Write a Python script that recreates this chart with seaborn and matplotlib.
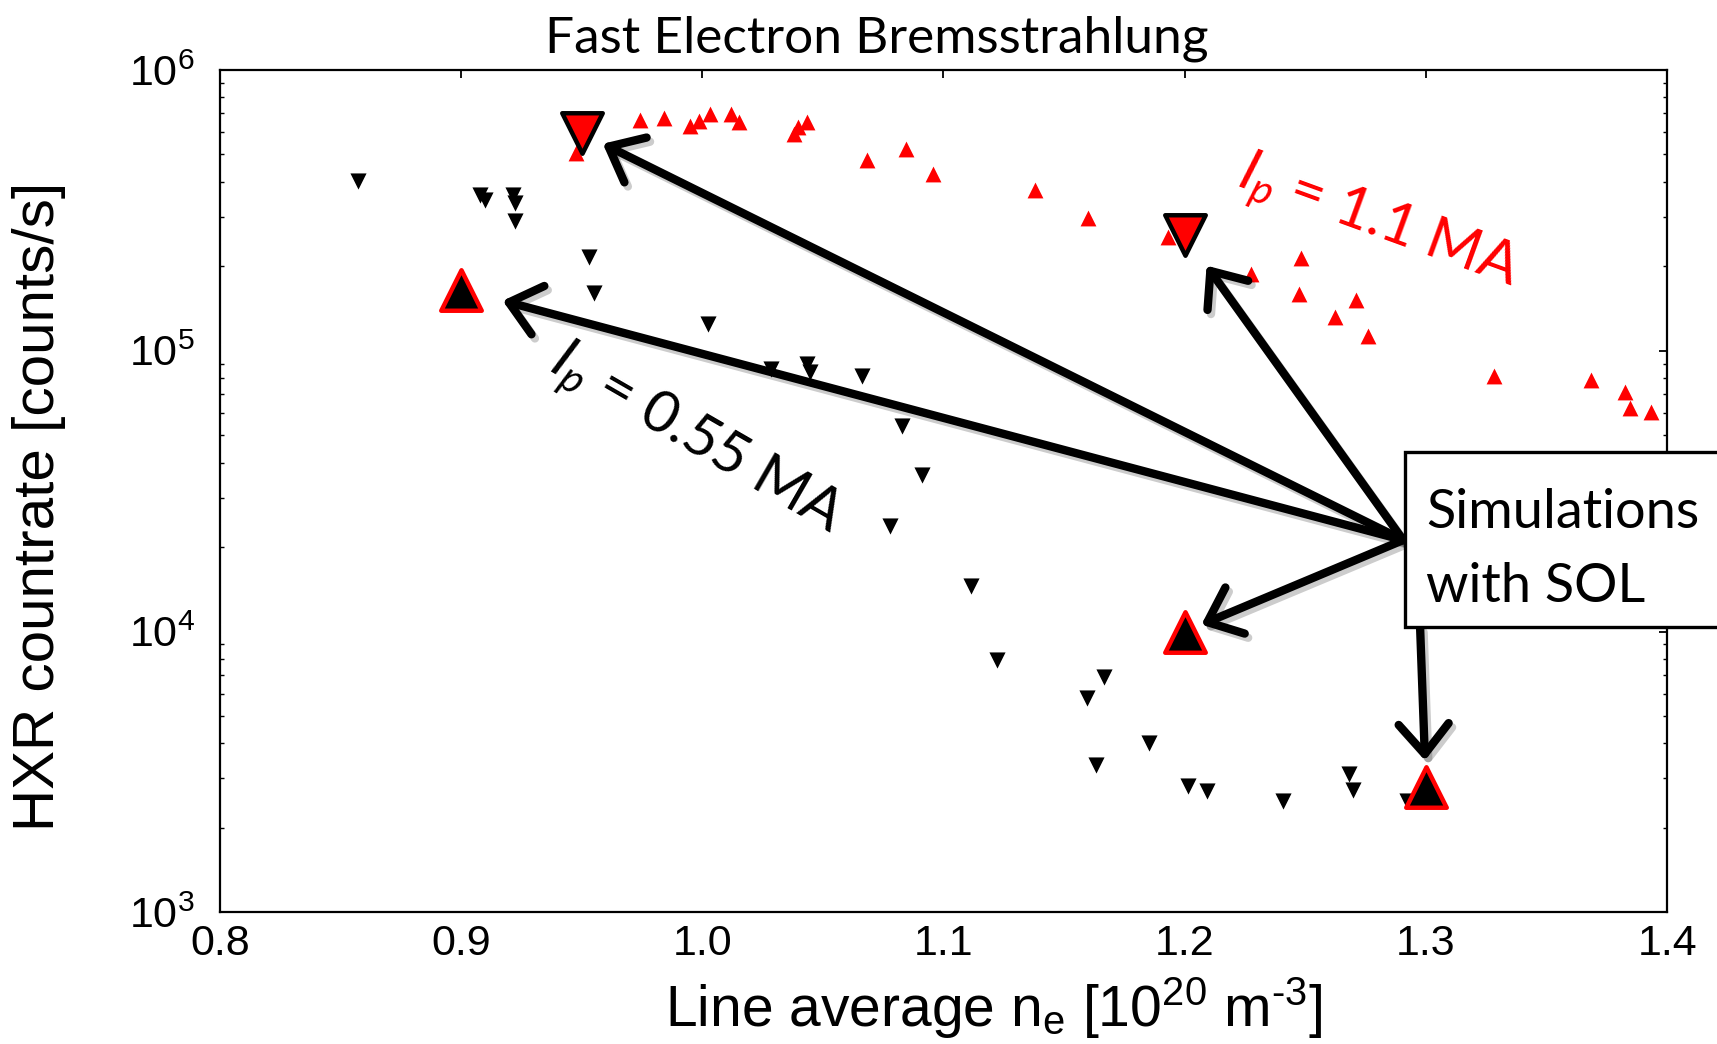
import matplotlib
matplotlib.use("Agg")
import matplotlib.pyplot as plt
import seaborn as sns
import numpy as np
from matplotlib import patheffects as pe
from matplotlib.patches import Rectangle
from matplotlib.ticker import FixedLocator, LogLocator, NullFormatter, FormatStrFormatter

# ---------------- data ----------------
# Ip = 0.55 MA measurements (black, down triangles)
ne_055 = [0.8575, 0.908, 0.910, 0.9216, 0.9222, 0.9222, 0.953, 0.9553, 1.0025,
          1.0283, 1.0435, 1.0445, 1.0661, 1.083, 1.0909, 1.0777, 1.1113, 1.1221,
          1.1666, 1.1595, 1.185, 1.1633, 1.2012, 1.2093, 1.2408, 1.268, 1.2696, 1.292]
hxr_055 = [4.03e5, 3.59e5, 3.44e5, 3.60e5, 3.37e5, 2.89e5, 2.16e5, 1.61e5, 1.25e5,
           8.6e4, 9.0e4, 8.4e4, 8.1e4, 5.4e4, 3.6e4, 2.37e4, 1.45e4, 7.9e3,
           6.9e3, 5.8e3, 4.0e3, 3.35e3, 2.81e3, 2.71e3, 2.49e3, 3.11e3, 2.73e3, 2.49e3]

# Ip = 1.1 MA measurements (red, up triangles)
ne_11 = [0.9478, 0.9744, 0.984, 0.9951, 0.9986, 1.0034, 1.0118, 1.0151, 1.038,
         1.0398, 1.0436, 1.0682, 1.0846, 1.0957, 1.138, 1.1598, 1.1932, 1.2276,
         1.2481, 1.2474, 1.2712, 1.2622, 1.2758, 1.3282, 1.3683, 1.3826, 1.3846, 1.3932]
hxr_11 = [5.05e5, 6.64e5, 6.74e5, 6.32e5, 6.58e5, 6.98e5, 6.95e5, 6.53e5, 5.91e5,
          6.25e5, 6.55e5, 4.76e5, 5.25e5, 4.27e5, 3.74e5, 2.98e5, 2.55e5, 1.87e5,
          2.14e5, 1.59e5, 1.52e5, 1.32e5, 1.13e5, 8.15e4, 7.87e4, 7.11e4, 6.24e4, 6.06e4]

# Simulations with SOL
sim_up_ne = [0.90, 1.20, 1.30]          # black fill, red edge (0.55 MA)
sim_up_hxr = [1.65e5, 1.0e4, 2.8e3]
sim_dn_ne = [0.95, 1.20]                # red fill, black edge (1.1 MA)
sim_dn_hxr = [5.95e5, 2.58e5]

x_ticks = [0.8, 0.9, 1.0, 1.1, 1.2, 1.3, 1.4]
y_lim = [1e3, 1e6]

title = "Fast Electron Bremsstrahlung"
xlabel = "Line average n$_\\mathregular{e}$ [10$^\\mathregular{20}$ m$^\\mathregular{\u20103}$]"
ylabel = "HXR countrate [counts/s]"
label_hi = r"$I_p$ = 1.1 MA"
label_lo = r"$I_p$ = 0.55 MA"
box_lines = ["Simulations", "with SOL"]

# ---------------- style ----------------
sns.set_theme(style="white")
plt.rcParams["font.family"] = ["Liberation Sans", "DejaVu Sans"]
plt.rcParams["mathtext.fontset"] = "custom"
plt.rcParams["mathtext.rm"] = "Lato"
plt.rcParams["mathtext.it"] = "Lato:italic"
plt.rcParams["axes.unicode_minus"] = False

fig = plt.figure(figsize=(17.17, 10.44), dpi=100)
ax = fig.add_axes([0.128, 0.126, 0.843, 0.807])

sns.scatterplot(x=ne_055, y=hxr_055, marker="v", color="black", s=135,
                linewidth=0, ax=ax, zorder=3, legend=False)
sns.scatterplot(x=ne_11, y=hxr_11, marker="^", color="#ff0000", s=130,
                linewidth=0, ax=ax, zorder=3, legend=False)
sns.scatterplot(x=sim_up_ne, y=sim_up_hxr, marker="^", color="black",
                edgecolor="#ff0000", s=850, linewidth=3.2, ax=ax, zorder=5, legend=False)
sns.scatterplot(x=sim_dn_ne, y=sim_dn_hxr, marker="v", color="#ff0000",
                edgecolor="black", s=850, linewidth=3.2, ax=ax, zorder=5, legend=False)

ax.set_yscale("log")
ax.set_xlim(x_ticks[0], x_ticks[-1])
ax.set_ylim(*y_lim)
ax.xaxis.set_major_locator(FixedLocator(x_ticks))
ax.xaxis.set_major_formatter(FormatStrFormatter("%.1f"))
ax.yaxis.set_major_locator(LogLocator(base=10, numticks=10))
ax.yaxis.set_minor_locator(LogLocator(base=10, subs=np.arange(2, 10), numticks=20))
ax.yaxis.set_minor_formatter(NullFormatter())

for sp in ax.spines.values():
    sp.set_linewidth(1.6)
    sp.set_color("black")

ax.tick_params(axis="both", which="major", direction="in", top=True, right=True,
               length=6, width=1.3, colors="black", labelsize=31)
ax.tick_params(axis="y", which="minor", direction="in", left=True, right=True,
               length=3, width=1.0, colors="black")
ax.tick_params(axis="x", which="major", pad=8)
ax.tick_params(axis="y", which="major", pad=18)

ax.set_xlabel(xlabel, fontsize=41, color="black")
ax.xaxis.set_label_coords(0.535, -0.074)
ax.set_ylabel(ylabel, fontsize=42, color="black")
ax.yaxis.set_label_coords(-0.106, 0.482)

ax.text(0.454, 1.0208, title, transform=ax.transAxes, ha="center", va="baseline",
        fontsize=37, family="Lato", color="black")

# rotated group labels
ax.text(1.2802, 2.85e5, label_hi, color="#ff0000", fontsize=42, family="Lato",
        rotation=-20, rotation_mode="anchor", ha="center", va="center", zorder=6)
ax.text(0.9972, 4.81e4, label_lo, color="black", fontsize=42, family="Lato",
        rotation=-30, rotation_mode="anchor", ha="center", va="center", zorder=6)

# annotation box
box_x0, box_y0, box_y1 = 0.819, 0.3388, 0.5465
ax.add_patch(Rectangle((box_x0, box_y0), 0.3, box_y1 - box_y0, transform=ax.transAxes,
                       facecolor="white", edgecolor="black", linewidth=2.4,
                       clip_on=False, zorder=10))
ax.text(0.8335, 0.4563, box_lines[0], transform=ax.transAxes, fontsize=39,
        family="Lato", ha="left", va="baseline", zorder=11, color="black")
ax.text(0.8335, 0.3685, box_lines[1], transform=ax.transAxes, fontsize=39,
        family="Lato", ha="left", va="baseline", zorder=11, color="black")

# arrows from the box to the simulation markers
shadow = [pe.SimpleLineShadow(offset=(2.5, -3), shadow_color="black", alpha=0.2),
          pe.Normal()]
astyle = "->,head_length=0.6,head_width=0.5"
targets = [
    (sim_dn_ne[0], sim_dn_hxr[0], (0.8176, 0.442), 17),
    (sim_up_ne[0], sim_up_hxr[0], (0.8176, 0.442), 31),
    (sim_dn_ne[1], sim_dn_hxr[1], (0.8176, 0.442), 27),
    (sim_up_ne[1], sim_up_hxr[1], (0.8176, 0.442), 13),
    (sim_up_ne[2], sim_up_hxr[2], (0.8293, 0.3376), 19),
]
for tx, ty, org, shr in targets:
    ax.annotate("", xy=(tx, ty), xycoords="data", xytext=org,
                textcoords="axes fraction",
                arrowprops=dict(arrowstyle=astyle, color="black", lw=6,
                                mutation_scale=36, shrinkA=0, shrinkB=shr,
                                path_effects=shadow),
                zorder=9, annotation_clip=False)

fig.savefig("out.png", dpi=100)
